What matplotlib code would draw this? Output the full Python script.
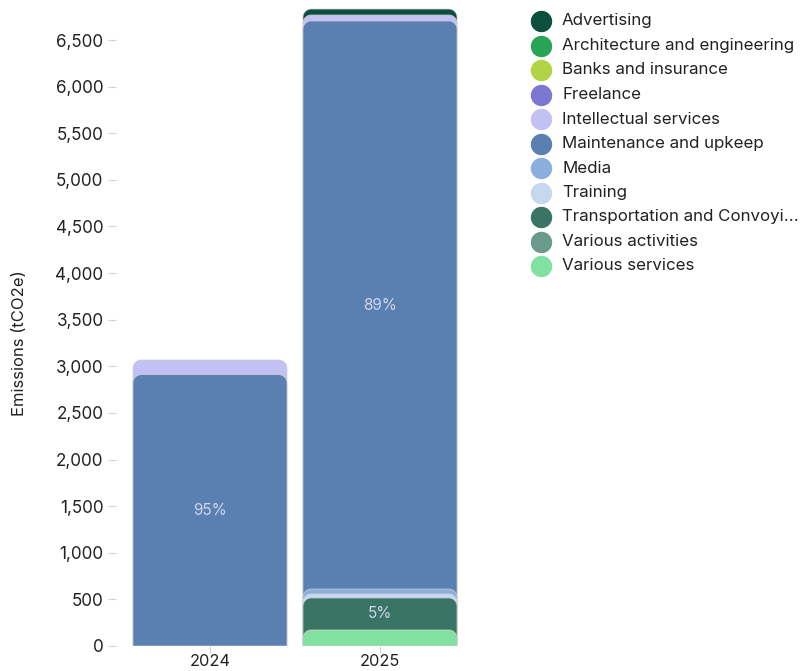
import numpy as np
import matplotlib
matplotlib.use("Agg")
import matplotlib.pyplot as plt
from matplotlib.path import Path
from matplotlib.patches import PathPatch
from matplotlib.lines import Line2D
from matplotlib.ticker import FuncFormatter

plt.rcParams['font.family'] = ['Inter', 'DejaVu Sans']

# Emissions by supplier category, per year (tCO2e)
years = ['2024', '2025']
categories = [
    'Advertising', 'Architecture and engineering', 'Banks and insurance',
    'Freelance', 'Intellectual services', 'Maintenance and upkeep', 'Media',
    'Training', 'Transportation and Convoyi...', 'Various activities',
    'Various services',
]
colors = [
    '#0c4f3d', '#29a457', '#b1d447', '#7c78d2', '#c3c1f3', '#5a80b1',
    '#8caede', '#c6d8ef', '#3a7464', '#6a9a8c', '#82e0a1',
]
values_2024 = [0, 0, 0, 0, 158, 2910, 0, 0, 0, 0, 0]
values_2025 = [64, 0, 0, 0, 64, 6093, 53, 43, 343, 0, 172]
values = [values_2024, values_2025]

# stacking order from the baseline upwards
stack_order = ['Various services', 'Transportation and Convoyi...', 'Training', 'Media',
               'Maintenance and upkeep', 'Intellectual services', 'Advertising']

W, H = 802, 671
fig = plt.figure(figsize=(W / 100, H / 100), dpi=100)
slot = 170
ax_left, ax_right = 116, 465
ax_bottom, ymax = 646, 6900
px_per_unit = (646 - 40) / 6500
ax_top = ax_bottom - ymax * px_per_unit
ax = fig.add_axes([ax_left / W, (H - ax_bottom) / H,
                   (ax_right - ax_left) / W, (ax_bottom - ax_top) / H])
ax.set_xlim(-0.5 - (125 - ax_left) / slot, 1.5)
ax.set_ylim(0, ymax)

bar_w = 154 / slot
radius_px = 8
rx = radius_px / slot
ry = radius_px / px_per_unit
k = 0.5523


def top_rounded(x0, x1, y1):
    verts = [(x0, 0), (x0, y1 - ry),
             (x0, y1 - ry + k * ry), (x0 + rx - k * rx, y1), (x0 + rx, y1),
             (x1 - rx, y1),
             (x1 - rx + k * rx, y1), (x1, y1 - ry + k * ry), (x1, y1 - ry),
             (x1, 0), (x0, 0)]
    codes = [Path.MOVETO, Path.LINETO,
             Path.CURVE4, Path.CURVE4, Path.CURVE4,
             Path.LINETO,
             Path.CURVE4, Path.CURVE4, Path.CURVE4,
             Path.LINETO, Path.CLOSEPOLY]
    return Path(verts, codes)


for i, yr in enumerate(years):
    vals = dict(zip(categories, values[i]))
    total = sum(values[i])
    segs = []
    base = 0
    for cat in stack_order:
        v = vals[cat]
        if v <= 0:
            continue
        segs.append((cat, base, base + v))
        base += v
    x0, x1 = i - bar_w / 2, i + bar_w / 2
    # draw tallest first so each lower segment sits over the one above it
    for z, (cat, lo, hi) in enumerate(reversed(segs)):
        c = colors[categories.index(cat)]
        ax.add_patch(PathPatch(top_rounded(x0, x1, hi), facecolor=c,
                               edgecolor='#d0d0d0', linewidth=0.5, zorder=2 + z))
    for cat, lo, hi in segs:
        v = hi - lo
        if v > 250:
            ax.text(i, (lo + hi) / 2, f'{round(100 * v / total)}%', ha='center',
                    va='center', fontsize=11, color='#cdd6f1', zorder=20)

ax.set_yticks(np.arange(0, 6501, 500))
ax.yaxis.set_major_formatter(FuncFormatter(lambda v, p: f'{int(v):,}'))
ax.set_xticks([0, 1])
ax.set_xticklabels(years)
for s in ax.spines.values():
    s.set_visible(False)
ax.tick_params(axis='y', length=6, width=0.8, color='#d4d4d4', pad=3,
               labelsize=12.3, labelcolor='#222222')
ax.tick_params(axis='x', length=5, width=0.8, color='#d4d4d4', pad=1,
               labelsize=11.8, labelcolor='#222222')
fig.text(20 / W, 1 - 343 / H, 'Emissions (tCO2e)', rotation=90, fontsize=12,
         color='#222222', ha='center', va='center')

# legend column
for j, (cat, c) in enumerate(zip(categories, colors)):
    yp = 1 - (21 + 24.5 * j) / H
    fig.add_artist(Line2D([541 / W], [yp], marker='o', markersize=14.4,
                          markerfacecolor=c, markeredgecolor=c,
                          transform=fig.transFigure))
    fig.text(562 / W, yp, cat, fontsize=12.2, color='#222222', va='center', ha='left')

fig.savefig('out.png', dpi=100)
